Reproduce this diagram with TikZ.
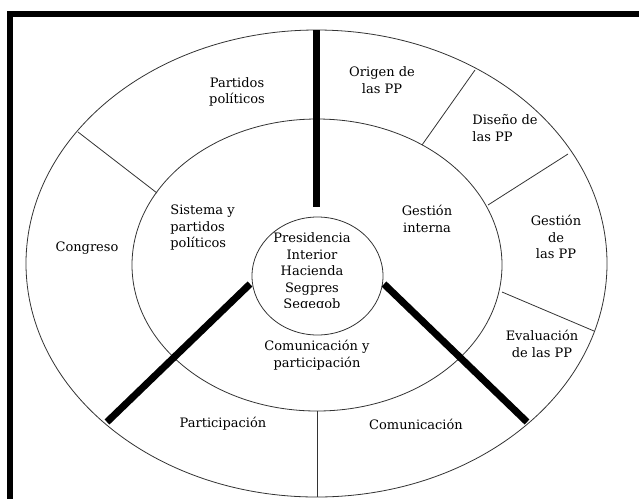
\documentclass[tikz,border=0pt]{standalone}
\usepackage{fontspec}
\setmainfont{DejaVu Serif}

\begin{document}
\begin{tikzpicture}[x=1pt,y=-1pt,line width=0.8pt,
  ring/.style={draw=black!80},
  bar/.style={line width=7pt},
  lbl/.style={align=center,inner sep=0pt,font=\fontsize{13}{16.5}\selectfont}]
  \useasboundingbox (0,0) rectangle (639,499);
  % frame (top and left only)
  \draw[line width=6pt] (7,14) -- (639,14);
  \draw[line width=6pt] (10,11) -- (10,499);
  % rings
  \draw[ring] (316.5,263.5) ellipse [x radius=290.5pt,y radius=233.5pt];
  \draw[ring] (317,265) ellipse [x radius=185pt,y radius=146pt];
  \draw[ring] (317.5,276) ellipse [x radius=65.5pt,y radius=59pt];
  % thin dividers in the outer ring
  \draw[black!80] (78,132) -- (157,193);
  \draw[black!80] (475,70) -- (422,145);
  \draw[black!80] (568,154) -- (488,205);
  \draw[black!80] (594,331) -- (502,292);
  \draw[black!80] (317,411) -- (317,497);
  % thick spokes
  \draw[bar] (316.5,30) -- (316.5,207);
  \draw[bar] (107,422) -- (250,284);
  \draw[bar] (384,284) -- (527,422);
  % labels, outer ring
  \node[lbl] (partidos) at (237,92) {Partidos\\políticos};
  \node[lbl] (origen) at (382,80) {Origen de\\las PP};
  \node[lbl,align=left,anchor=west] (diseno) at (472,128) {Diseño de\\las PP};
  \node[lbl] (gestion) at (556,237) {Gestión\\de\\las PP};
  \node[lbl] (evaluacion) at (542,344) {Evaluación\\de las PP};
  \node[lbl] (comunicacion) at (416,424) {Comunicación};
  \node[lbl] (participacion) at (223,424) {Participación};
  \node[lbl] (congreso) at (87,248) {Congreso};
  % labels, middle ring
  \node[lbl,align=left,anchor=west] (sistema) at (170,228) {Sistema y\\partidos\\políticos};
  \node[lbl] (interna) at (427,219) {Gestión\\interna};
  \node[lbl] (comypart) at (317,355) {Comunicación y\\participación};
  % centre, last line cut off
  \begin{scope}
    \clip (240,200) rectangle (400,307);
    \node[lbl] (centro) at (312,272) {Presidencia\\Interior\\Hacienda\\Segpres\\Segegob};
  \end{scope}
\end{tikzpicture}
\end{document}
